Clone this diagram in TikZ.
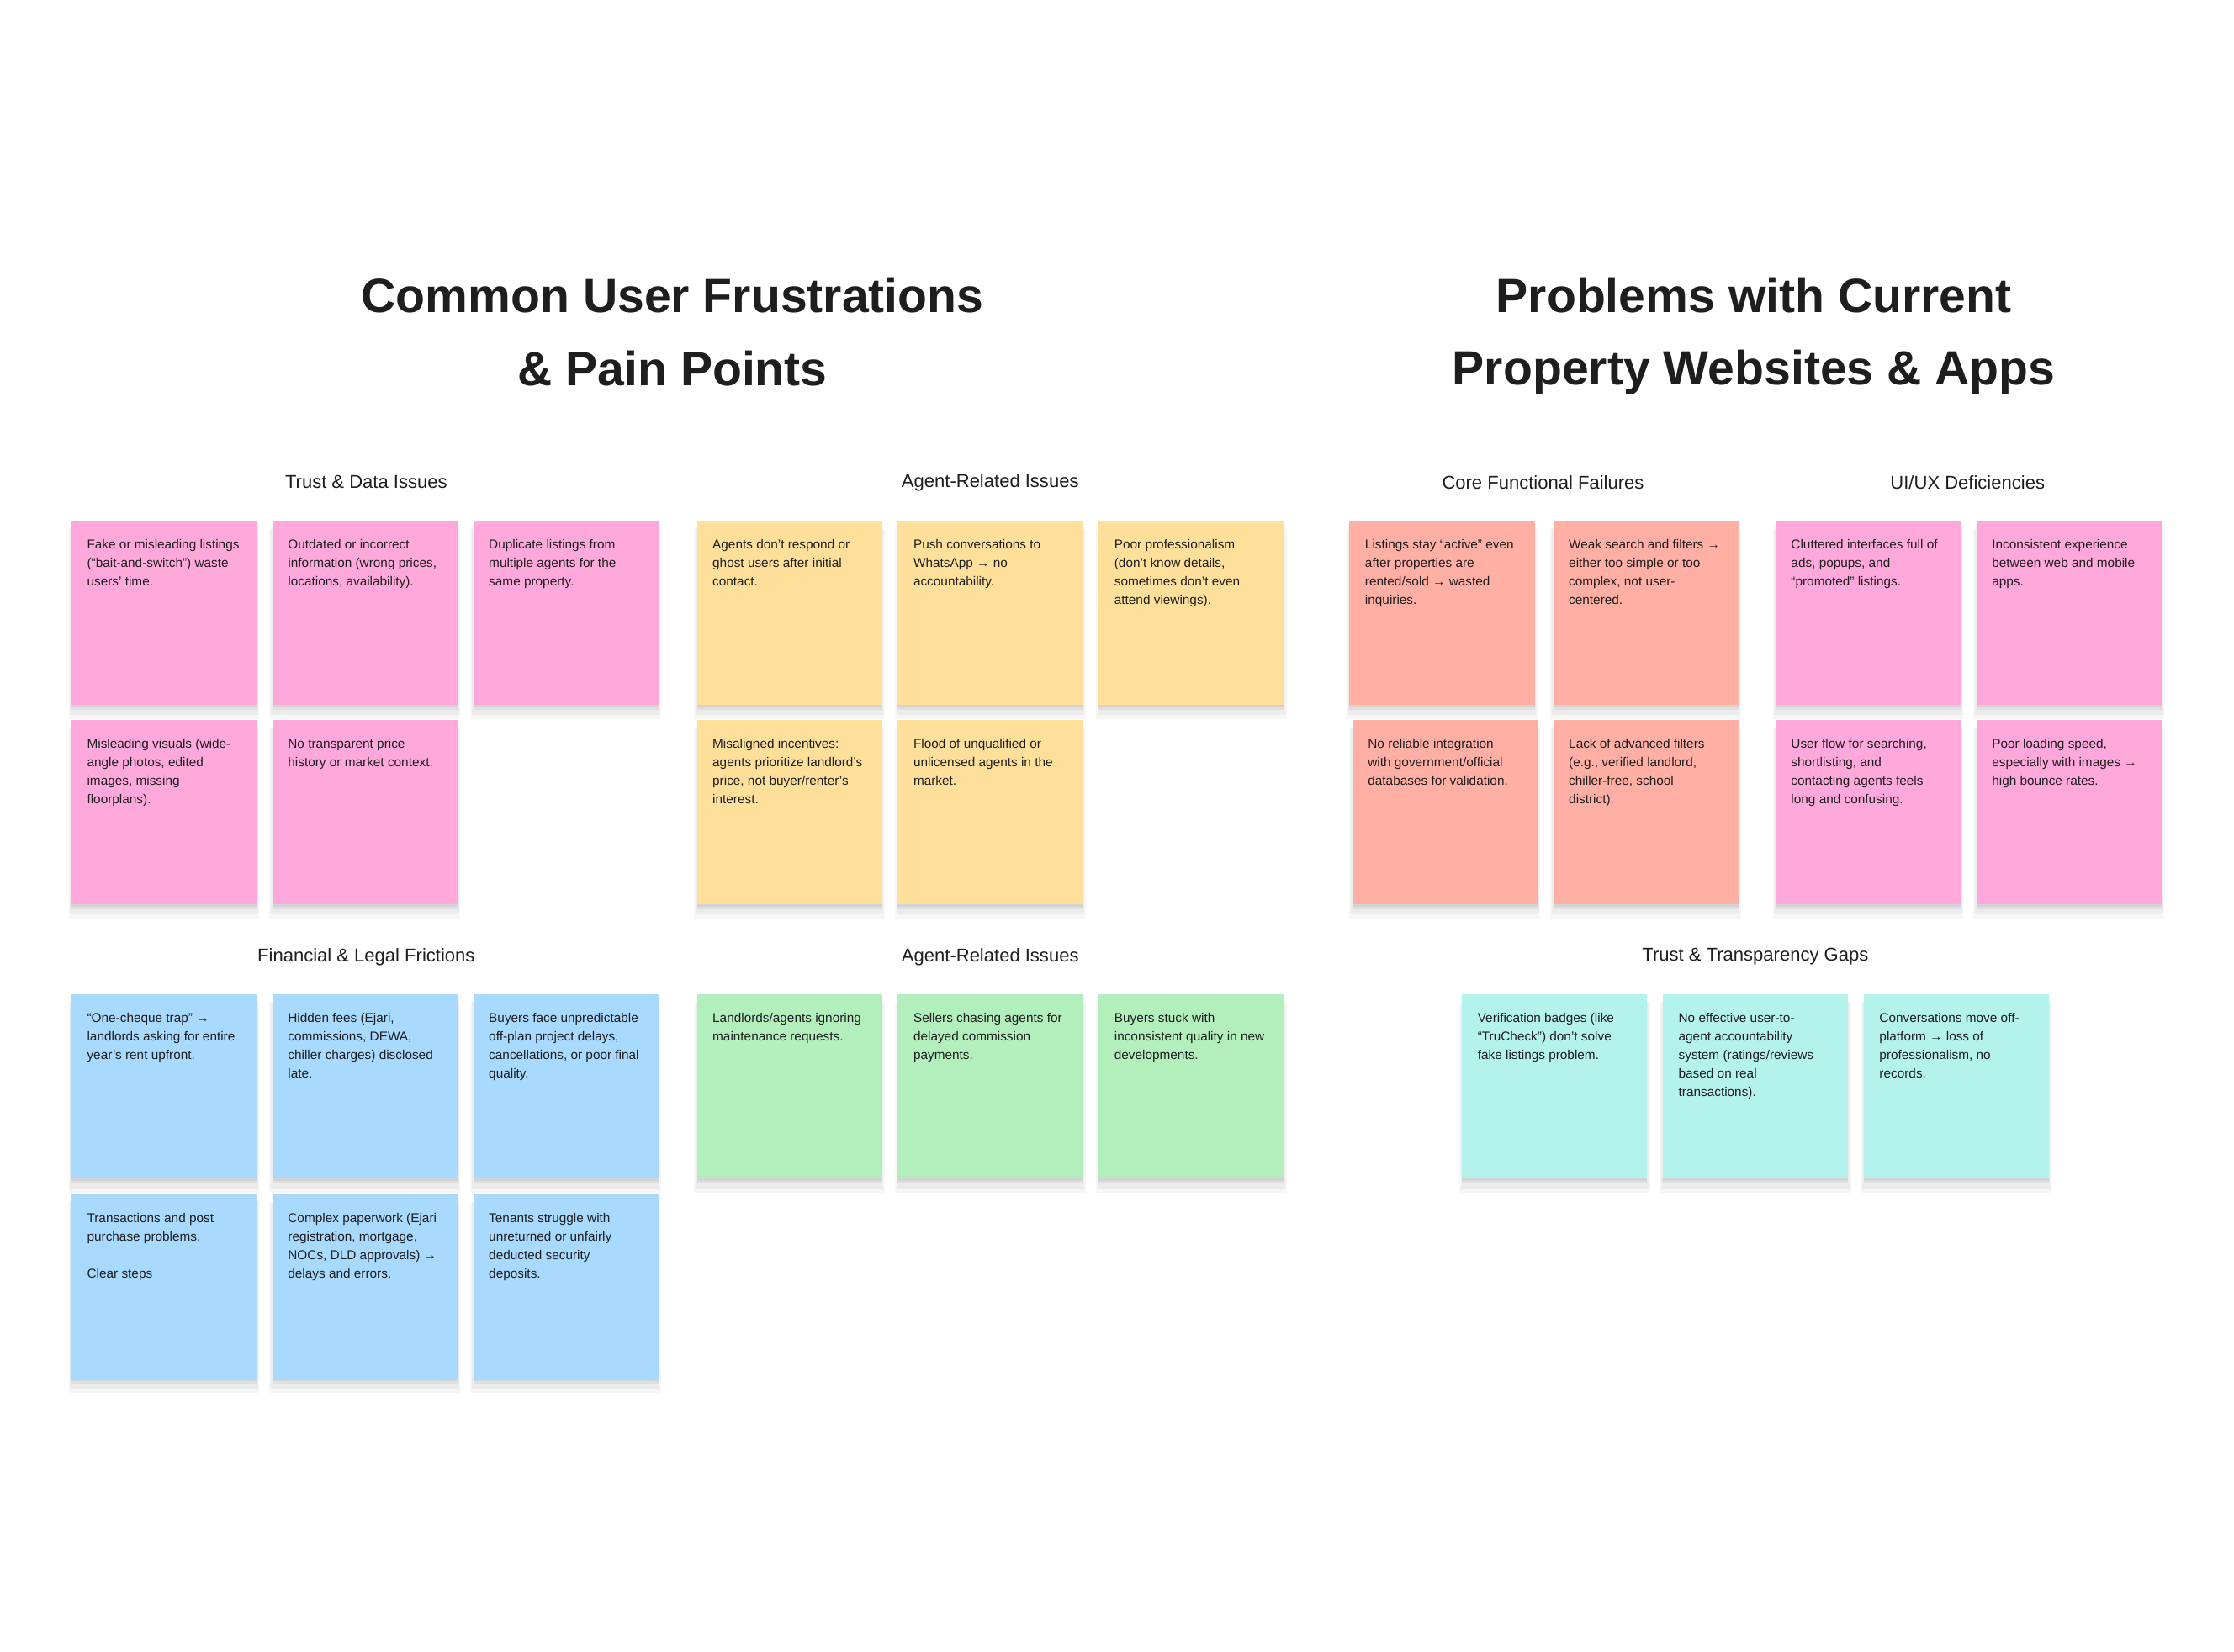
\documentclass[tikz,border=0pt]{standalone}
\usepackage{fontspec}
\setmainfont{Liberation Sans}
\usepackage{xcolor}
\usepackage{tikz}
\usetikzlibrary{positioning, shadows}

\definecolor{ink}{HTML}{1E1E1E}
\definecolor{notepink}{HTML}{FFA8DB}
\definecolor{noteyellow}{HTML}{FEE09B}
\definecolor{notesalmon}{HTML}{FFAFA3}
\definecolor{noteblue}{HTML}{A8D9FF}
\definecolor{notegreen}{HTML}{B3EFBD}
\definecolor{notecyan}{HTML}{B4F2EC}

\begin{document}
\begin{tikzpicture}[
      x=0.5mm, y=-0.5mm,
      note/.style={anchor=north west, minimum width=65mm, minimum height=64.75mm,
                   inner sep=0pt, draw=none,
                   general shadow={fill=black, opacity=0.035, shadow yshift=-4mm,
                                   shadow scale=1.03},
                   general shadow={fill=black, opacity=0.04, shadow yshift=-3mm,
                                   shadow scale=1.015},
                   general shadow={fill=black, opacity=0.05, shadow yshift=-1.8mm},
                   general shadow={fill=black, opacity=0.05, shadow yshift=-0.8mm}},
      pinknote/.style={note, fill=notepink},
      yellownote/.style={note, fill=noteyellow},
      salmonnote/.style={note, fill=notesalmon},
      bluenote/.style={note, fill=noteblue},
      greennote/.style={note, fill=notegreen},
      cyannote/.style={note, fill=notecyan},
      txt/.style={font=\fontsize{12.9}{18.5}\selectfont, text=ink, align=left,
                  inner sep=0pt},
      head/.style={font=\fontsize{18.5}{22}\selectfont, text=ink, inner sep=0pt},
      title/.style={font=\fontsize{48}{73}\selectfont\bfseries, text=ink,
                    align=center, inner sep=0pt},
    ]
    \useasboundingbox[fill=white] (0,0) rectangle (1568,1159);
    \def\rowA{365}
    \def\rowB{505}
    \def\rowC{697.5}
    \def\rowD{838}

    % ---- the two big titles ----
    \node[title] (tleft) at (472,233) {Common User Frustrations\\\& Pain Points};
    \node[title] (tright) at (1231,236) {Problems with Current\\Property Websites \& Apps};

    % ---- trust & data issues (pink) ----
    \node[head] (htd) at (257,338.5) {Trust \& Data Issues};
    \node[pinknote] (td1) at (50,\rowA) {};
    \node[txt, below right=6.75mm and 5.5mm of td1.north west] (td1t)
      {Fake or misleading listings\\(“bait-and-switch”) waste\\users’ time.};
    \node[pinknote] (td2) at (191,\rowA) {};
    \node[txt, below right=6.75mm and 5.5mm of td2.north west] (td2t)
      {Outdated or incorrect\\information (wrong prices,\\locations, availability).};
    \node[pinknote] (td3) at (332,\rowA) {};
    \node[txt, below right=6.75mm and 5.5mm of td3.north west] (td3t)
      {Duplicate listings from\\multiple agents for the\\same property.};
    \node[pinknote] (td4) at (50,\rowB) {};
    \node[txt, below right=6.75mm and 5.5mm of td4.north west] (td4t)
      {Misleading visuals (wide-\\angle photos, edited\\images, missing\\floorplans).};
    \node[pinknote] (td5) at (191,\rowB) {};
    \node[txt, below right=6.75mm and 5.5mm of td5.north west] (td5t)
      {No transparent price\\history or market context.};

    % ---- agent-related issues (yellow) ----
    \node[head] (hag) at (695,338.5) {Agent-Related Issues};
    \node[yellownote] (ag1) at (489,\rowA) {};
    \node[txt, below right=6.75mm and 5.5mm of ag1.north west] (ag1t)
      {Agents don’t respond or\\ghost users after initial\\contact.};
    \node[yellownote] (ag2) at (630,\rowA) {};
    \node[txt, below right=6.75mm and 5.5mm of ag2.north west] (ag2t)
      {Push conversations to\\WhatsApp → no\\accountability.};
    \node[yellownote] (ag3) at (771,\rowA) {};
    \node[txt, below right=6.75mm and 5.5mm of ag3.north west] (ag3t)
      {Poor professionalism\\(don’t know details,\\sometimes don’t even\\attend viewings).};
    \node[yellownote] (ag4) at (489,\rowB) {};
    \node[txt, below right=6.75mm and 5.5mm of ag4.north west] (ag4t)
      {Misaligned incentives:\\agents prioritize landlord’s\\price, not buyer/renter’s\\interest.};
    \node[yellownote] (ag5) at (630,\rowB) {};
    \node[txt, below right=6.75mm and 5.5mm of ag5.north west] (ag5t)
      {Flood of unqualified or\\unlicensed agents in the\\market.};

    % ---- core functional failures (salmon) ----
    \node[head] (hcf) at (1083,338.5) {Core Functional Failures};
    \node[salmonnote] (cf1) at (947,\rowA) {};
    \node[txt, below right=6.75mm and 5.5mm of cf1.north west] (cf1t)
      {Listings stay “active” even\\after properties are\\rented/sold → wasted\\inquiries.};
    \node[salmonnote] (cf2) at (1090,\rowA) {};
    \node[txt, below right=6.75mm and 5.5mm of cf2.north west] (cf2t)
      {Weak search and filters →\\either too simple or too\\complex, not user-\\centered.};
    \node[salmonnote] (cf3) at (949,\rowB) {};
    \node[txt, below right=6.75mm and 5.5mm of cf3.north west] (cf3t)
      {No reliable integration\\with government/official\\databases for validation.};
    \node[salmonnote] (cf4) at (1090,\rowB) {};
    \node[txt, below right=6.75mm and 5.5mm of cf4.north west] (cf4t)
      {Lack of advanced filters\\(e.g., verified landlord,\\chiller-free, school\\district).};

    % ---- ui/ux deficiencies (pink) ----
    \node[head] (hux) at (1381,338.5) {UI/UX Deficiencies};
    \node[pinknote] (ux1) at (1246,\rowA) {};
    \node[txt, below right=6.75mm and 5.5mm of ux1.north west] (ux1t)
      {Cluttered interfaces full of\\ads, popups, and\\“promoted” listings.};
    \node[pinknote] (ux2) at (1387,\rowA) {};
    \node[txt, below right=6.75mm and 5.5mm of ux2.north west] (ux2t)
      {Inconsistent experience\\between web and mobile\\apps.};
    \node[pinknote] (ux3) at (1246,\rowB) {};
    \node[txt, below right=6.75mm and 5.5mm of ux3.north west] (ux3t)
      {User flow for searching,\\shortlisting, and\\contacting agents feels\\long and confusing.};
    \node[pinknote] (ux4) at (1387,\rowB) {};
    \node[txt, below right=6.75mm and 5.5mm of ux4.north west] (ux4t)
      {Poor loading speed,\\especially with images →\\high bounce rates.};

    % ---- financial & legal frictions (blue) ----
    \node[head] (hfl) at (257,671.5) {Financial \& Legal Frictions};
    \node[bluenote] (fl1) at (50,\rowC) {};
    \node[txt, below right=6.75mm and 5.5mm of fl1.north west] (fl1t)
      {“One-cheque trap” →\\landlords asking for entire\\year’s rent upfront.};
    \node[bluenote] (fl2) at (191,\rowC) {};
    \node[txt, below right=6.75mm and 5.5mm of fl2.north west] (fl2t)
      {Hidden fees (Ejari,\\commissions, DEWA,\\chiller charges) disclosed\\late.};
    \node[bluenote] (fl3) at (332,\rowC) {};
    \node[txt, below right=6.75mm and 5.5mm of fl3.north west] (fl3t)
      {Buyers face unpredictable\\off-plan project delays,\\cancellations, or poor final\\quality.};
    \node[bluenote] (fl4) at (50,\rowD) {};
    \node[txt, below right=6.75mm and 5.5mm of fl4.north west] (fl4t)
      {Transactions and post\\purchase problems,\\[18.5pt]Clear steps};
    \node[bluenote] (fl5) at (191,\rowD) {};
    \node[txt, below right=6.75mm and 5.5mm of fl5.north west] (fl5t)
      {Complex paperwork (Ejari\\registration, mortgage,\\NOCs, DLD approvals) →\\delays and errors.};
    \node[bluenote] (fl6) at (332,\rowD) {};
    \node[txt, below right=6.75mm and 5.5mm of fl6.north west] (fl6t)
      {Tenants struggle with\\unreturned or unfairly\\deducted security\\deposits.};

    % ---- agent-related issues, second board (green) ----
    \node[head] (har) at (695,671.5) {Agent-Related Issues};
    \node[greennote] (ar1) at (489,\rowC) {};
    \node[txt, below right=6.75mm and 5.5mm of ar1.north west] (ar1t)
      {Landlords/agents ignoring\\maintenance requests.};
    \node[greennote] (ar2) at (630,\rowC) {};
    \node[txt, below right=6.75mm and 5.5mm of ar2.north west] (ar2t)
      {Sellers chasing agents for\\delayed commission\\payments.};
    \node[greennote] (ar3) at (771,\rowC) {};
    \node[txt, below right=6.75mm and 5.5mm of ar3.north west] (ar3t)
      {Buyers stuck with\\inconsistent quality in new\\developments.};

    % ---- trust & transparency gaps (cyan) ----
    \node[head] (htt) at (1232,671.5) {Trust \& Transparency Gaps};
    \node[cyannote] (tt1) at (1026,\rowC) {};
    \node[txt, below right=6.75mm and 5.5mm of tt1.north west] (tt1t)
      {Verification badges (like\\“TruCheck”) don’t solve\\fake listings problem.};
    \node[cyannote] (tt2) at (1167,\rowC) {};
    \node[txt, below right=6.75mm and 5.5mm of tt2.north west] (tt2t)
      {No effective user-to-\\agent accountability\\system (ratings/reviews\\based on real\\transactions).};
    \node[cyannote] (tt3) at (1308,\rowC) {};
    \node[txt, below right=6.75mm and 5.5mm of tt3.north west] (tt3t)
      {Conversations move off-\\platform → loss of\\professionalism, no\\records.};
  \end{tikzpicture}
\end{document}
